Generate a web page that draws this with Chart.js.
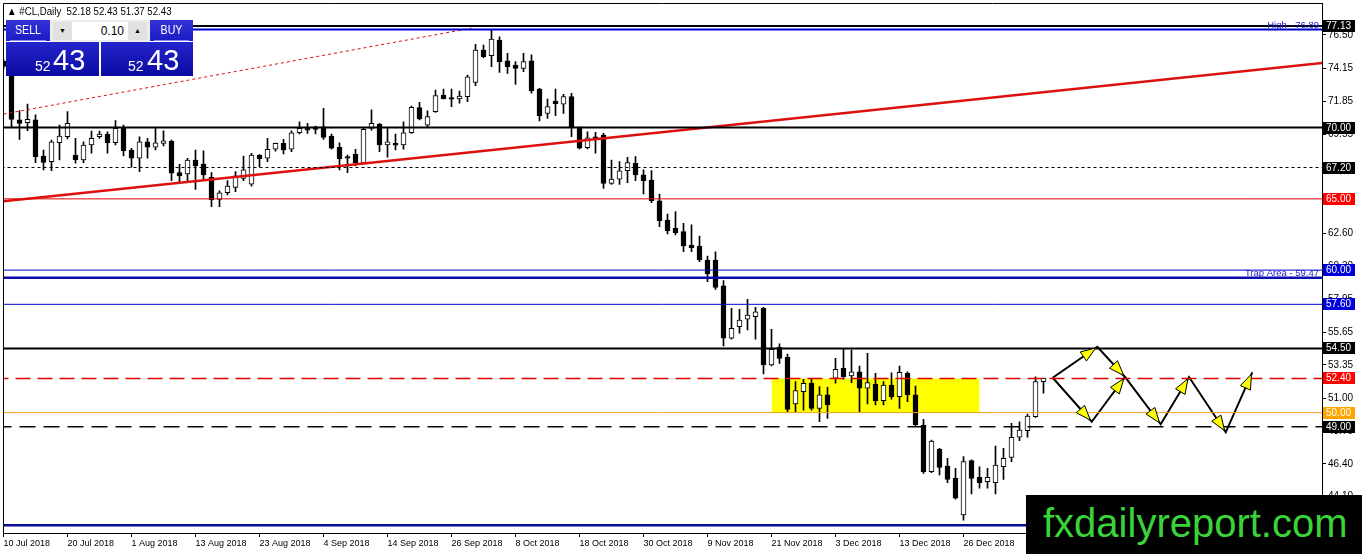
<!DOCTYPE html>
<html>
<head>
<meta charset="utf-8">
<script src="https://cdn.jsdelivr.net/npm/chart.js@4.4.0/dist/chart.umd.min.js"></script>
<style>
html,body{margin:0;padding:0;background:#fff;}
#wrap{position:relative;width:1362px;height:554px;overflow:hidden;font-family:"Liberation Sans",Arial,sans-serif;background:#fff;}
#c{position:absolute;left:0;top:0;}
.abs{position:absolute;white-space:pre;}
#title{left:7px;top:5px;font-size:11px;line-height:12px;color:#000;transform:scaleX(0.88);transform-origin:0 0;}
.btn{position:absolute;top:20px;height:21px;background:linear-gradient(#3333d8,#1c1cc4);color:#fff;}
.btn span{position:absolute;left:0;right:0;top:3px;text-align:center;font-size:13px;line-height:14px;transform:scaleX(0.82);}
.btn i{position:absolute;left:4px;right:4px;bottom:0;height:1px;background:#8c8ce8;}
#spin{position:absolute;left:50px;top:20px;width:100px;height:22px;background:#ececec;}
#field{position:absolute;left:22px;top:2px;width:56px;height:18px;background:#fff;}
#field span{position:absolute;right:4px;top:2px;font-size:12px;line-height:14px;color:#000;}
.sb{position:absolute;top:2px;width:19px;height:18px;background:#e1e1e1;color:#000;font-size:7px;line-height:18px;text-align:center;}
.pbox{position:absolute;top:42px;height:34px;background:linear-gradient(#2424cc,#0b0ba2);color:#fff;}
.small{position:absolute;font-size:14px;line-height:14px;}
.big{position:absolute;font-size:29px;line-height:29px;}
#wm{position:absolute;left:1026px;top:495px;width:336px;height:59px;background:#000;}
#wm span{position:absolute;left:17px;top:8px;font-size:40px;line-height:40px;color:#3ad33a;white-space:pre;}
</style>
</head>
<body>
<div id="wrap">
<canvas id="c" width="1362" height="554"></canvas>
<div id="title" class="abs">&#9650; #CL,Daily  52.18 52.43 51.37 52.43</div>
<div class="btn" style="left:6px;width:44px;"><span>SELL</span><i></i></div>
<div id="spin"><div class="sb" style="left:3px;">&#9660;</div><div id="field"><span>0.10</span></div><div class="sb" style="left:78px;">&#9650;</div></div>
<div class="btn" style="left:150px;width:43px;"><span>BUY</span><i></i></div>
<div class="pbox" style="left:6px;width:93px;"><span class="small" style="left:29px;top:17px;">52</span><span class="big" style="left:47px;top:4px;">43</span></div>
<div class="pbox" style="left:101px;width:92px;"><span class="small" style="left:27px;top:17px;">52</span><span class="big" style="left:46px;top:4px;">43</span></div>
<div id="wm"><span>fxdailyreport.com</span></div>
</div>
<script>
// ---- data (bar index -1 = 10 Jul 2018) ----
const openP = [74.65,74.20,70.54,70.35,70.54,68.00,67.61,68.94,69.36,68.08,67.73,68.78,69.36,69.53,68.94,70.02,68.43,67.85,69.01,68.62,68.90,69.06,66.84,66.75,67.73,67.45,66.51,64.97,65.43,65.81,66.44,66.04,68.08,67.85,68.48,68.90,68.48,69.64,69.95,70.06,70.06,69.41,68.62,67.96,68.13,67.50,69.95,70.25,68.78,68.90,68.78,69.64,71.40,70.18,71.12,72.29,72.10,72.01,72.17,73.18,75.45,75.05,76.15,74.68,74.39,74.16,74.68,72.71,71.00,71.87,71.64,72.17,69.95,68.59,69.36,69.48,66.09,66.39,66.98,67.50,66.68,66.32,64.87,63.52,62.94,62.70,61.76,61.69,60.71,60.71,58.89,55.22,56.03,56.55,56.73,57.32,53.34,54.58,53.88,50.61,51.47,52.05,50.30,51.24,52.41,53.11,52.57,52.87,51.71,52.01,50.84,51.94,51.12,52.76,51.24,49.13,45.85,47.43,46.25,45.39,42.82,46.63,45.46,45.15,45.08,46.20,46.86,48.27,48.73,49.71,52.18];
const highP = [74.80,74.30,71.19,71.66,70.89,68.43,69.13,70.18,71.12,69.25,69.01,69.76,69.76,69.71,70.49,70.18,68.55,69.36,69.25,69.95,69.78,69.13,67.43,67.85,68.43,68.38,66.84,65.57,66.28,66.91,68.01,68.20,68.10,69.25,68.92,69.18,69.78,70.41,70.30,70.11,71.36,69.55,68.94,68.08,68.48,69.95,71.24,70.30,69.95,69.55,70.41,71.52,71.78,71.17,72.64,72.71,72.71,72.57,73.69,75.85,75.80,76.89,76.38,75.22,74.63,75.22,75.10,72.76,72.01,72.71,72.34,72.41,70.06,69.71,69.67,69.60,67.73,67.61,67.92,67.96,67.03,66.98,65.34,63.94,64.10,63.29,63.17,62.39,60.99,61.29,59.26,57.32,57.24,57.95,57.39,57.39,55.85,54.82,54.11,52.17,52.34,52.41,51.82,51.78,53.81,54.51,54.39,53.27,54.16,52.76,52.17,52.80,53.27,52.87,51.87,49.53,48.08,47.50,46.79,46.09,46.91,46.68,46.20,46.09,47.66,47.50,49.25,49.36,49.90,52.52,52.43];
const lowP = [74.10,70.06,69.18,69.78,67.54,67.03,66.98,67.73,69.20,67.50,67.54,68.20,69.25,68.20,68.78,68.01,67.22,66.91,67.85,68.43,68.71,66.28,66.21,66.21,65.67,66.32,64.45,64.45,65.27,65.50,66.28,65.90,67.26,67.61,68.34,68.15,68.31,69.55,69.60,69.55,69.18,68.48,67.03,66.84,67.31,67.45,69.83,68.31,67.92,68.43,68.48,69.60,70.54,70.06,71.07,72.01,71.47,71.71,71.82,72.94,74.91,74.28,73.88,73.81,73.04,73.93,72.41,70.47,70.65,70.84,71.00,69.36,68.50,68.50,68.20,65.74,66.02,66.02,66.14,66.28,65.34,64.73,63.05,62.54,62.47,61.29,61.29,60.59,59.19,58.65,54.68,55.15,55.57,55.80,55.15,52.71,53.27,53.46,50.07,50.07,50.18,50.18,49.36,49.60,52.06,52.34,52.10,50.07,50.61,50.54,50.54,50.94,50.30,50.77,49.01,45.74,45.78,45.62,45.08,43.92,42.46,44.29,44.69,44.69,44.29,45.32,46.56,48.03,48.27,49.67,51.37];
const closeP = [74.30,70.58,70.30,70.58,67.96,67.55,69.01,69.41,70.30,67.73,68.78,69.25,69.55,68.94,69.95,68.38,67.85,69.01,68.62,68.94,69.08,66.80,66.61,67.73,67.31,66.68,64.92,65.43,65.90,66.61,67.03,68.08,67.83,68.48,68.90,68.43,69.64,69.95,69.83,69.88,69.32,68.55,67.83,67.85,67.50,69.88,70.30,68.78,69.01,68.76,69.64,71.43,70.61,70.77,72.24,72.01,71.99,72.22,73.57,75.45,74.98,76.22,74.63,74.28,74.16,74.63,72.57,70.84,71.47,71.68,72.17,69.99,68.55,69.29,69.20,66.09,66.39,66.96,67.54,66.68,66.28,64.87,63.47,62.77,62.63,61.69,61.57,60.71,59.73,58.79,55.22,55.92,56.50,56.85,57.08,53.34,54.44,53.81,50.23,51.54,52.05,50.30,51.24,50.54,53.04,52.52,52.87,51.71,52.10,50.84,51.94,51.12,52.83,51.24,49.13,45.85,48.01,46.16,45.32,43.99,46.56,45.39,45.08,45.46,46.32,46.79,48.27,48.78,49.76,52.17,52.43];

const xTickIndex = [-1,7,15,23,31,39,47,55,63,71,79,87,95,103,111,119];
const xTickLabels = ["10 Jul 2018","20 Jul 2018","1 Aug 2018","13 Aug 2018","23 Aug 2018","4 Sep 2018","14 Sep 2018","26 Sep 2018","8 Oct 2018","18 Oct 2018","30 Oct 2018","9 Nov 2018","21 Nov 2018","3 Dec 2018","13 Dec 2018","26 Dec 2018"];
const yTickValues = [44.10,46.40,48.70,51.00,53.35,55.65,57.95,60.30,62.60,64.90,67.20,69.55,71.85,74.15,76.50];

// horizontal levels
const levelPrices = [77.13,76.89,70.00,67.20,65.00,60.00,59.47,57.60,54.50,52.40,50.00,49.00,42.10];
// right-axis price tags
const tagPrices = [77.13,70.00,67.20,65.00,60.00,57.60,54.50,52.40,50.00,49.00];
// trend lines [index, price]
const redTrend = [[-1,64.83],[164,74.55]];
const dottedTrend = [[-1,70.95],[57.5,76.98]];
// yellow zone
const zoneX = [95,121];
const zonePrices = [52.40,50.00];
// projected zigzag paths
const pathA = [[130.15,52.45],[135.73,54.62],[139.19,52.50],[143.65,49.18],[147.19,52.50],[151.78,48.62],[155.10,52.83]];
const pathB = [[130.15,52.45],[135.03,49.36],[139.19,52.50]];
// text notes
const noteTexts = ["High - 76.89","Trap Area - 59.47"];
const notePrices = [76.89,59.47];

// ---- styles (kept apart from data) ----
const levelStyle = [
 {c:'#000000',w:2,d:[]},{c:'#0000c8',w:2,d:[]},{c:'#000000',w:2,d:[]},{c:'#000000',w:1.2,d:[3,3]},
 {c:'#e00000',w:1,d:[]},{c:'#0000c8',w:1,d:[]},{c:'#0a0ab0',w:2.5,d:[]},{c:'#0000c8',w:1,d:[]},
 {c:'#000000',w:2,d:[]},{c:'#e00000',w:1.5,d:[15,7]},{c:'#f0a020',w:1,d:[]},{c:'#000000',w:1.5,d:[16,8]},{c:'#0b0b9a',w:2.5,d:[]}
];
const tagColors = ['#000000','#000000','#000000','#ff0000','#0000dd','#0000dd','#000000','#ff0000','#ffa500','#000000'];

const idx = openP.map((_,k)=>k-1);
const bodies = idx.map((x,k)=>({x:x,y:[Math.min(openP[k],closeP[k]),Math.max(openP[k],closeP[k])]}));
const wicks = idx.map((x,k)=>({x:x,y:[lowP[k],highP[k]]}));
const bodyFill = idx.map((x,k)=> closeP[k]>=openP[k] ? '#ffffff' : '#000000');

const datasets = [];
levelPrices.forEach((p,k)=>{
  datasets.push({type:'line',data:[{x:-5,y:p},{x:170,y:p}],borderColor:levelStyle[k].c,borderWidth:levelStyle[k].w,borderDash:levelStyle[k].d,pointRadius:0,fill:false,order:0,tension:0});
});
datasets.push({type:'line',data:redTrend.map(a=>({x:a[0],y:a[1]})),borderColor:'#dd1010',borderWidth:2.5,pointRadius:0,fill:false,order:0});
datasets.push({type:'line',data:dottedTrend.map(a=>({x:a[0],y:a[1]})),borderColor:'#dd1010',borderWidth:1,borderDash:[3,3],pointRadius:0,fill:false,order:0});
datasets.push({type:'line',data:pathA.map(a=>({x:a[0],y:a[1]})),borderColor:'#000',borderWidth:2,pointRadius:0,fill:false,order:0});
datasets.push({type:'line',data:pathB.map(a=>({x:a[0],y:a[1]})),borderColor:'#000',borderWidth:2,pointRadius:0,fill:false,order:0});
datasets.push({type:'bar',data:bodies,backgroundColor:bodyFill,borderColor:'#000',borderWidth:1,borderSkipped:false,barThickness:5,grouped:false,order:1});
datasets.push({type:'bar',data:wicks,backgroundColor:'#000',borderWidth:0,barThickness:1,grouped:false,order:2});
datasets.push({type:'line',data:[{x:zoneX[0],y:zonePrices[0]},{x:zoneX[1],y:zonePrices[0]}],borderWidth:0,pointRadius:0,fill:'+1',backgroundColor:'#ffff00',order:3});
datasets.push({type:'line',data:[{x:zoneX[0],y:zonePrices[1]},{x:zoneX[1],y:zonePrices[1]}],borderWidth:0,pointRadius:0,fill:false,order:3});

const FONT = '"Liberation Sans", Arial, sans-serif';

const extras = {
  id:'extras',
  afterDatasetsDraw(chart){
    const {ctx, scales:{x,y}} = chart;
    ctx.save();
    [pathA,pathB].forEach(path=>{
      for(let k=1;k<path.length;k++){
        const x0=x.getPixelForValue(path[k-1][0]), y0=y.getPixelForValue(path[k-1][1]);
        const x1=x.getPixelForValue(path[k][0]), y1=y.getPixelForValue(path[k][1]);
        const dx=x1-x0, dy=y1-y0, len=Math.hypot(dx,dy), ux=dx/len, uy=dy/len;
        const tx=x1-ux*2, ty=y1-uy*2, L=15, W=5.5;
        const bx=tx-ux*L, by=ty-uy*L;
        ctx.beginPath();
        ctx.moveTo(tx,ty); ctx.lineTo(bx-uy*W,by+ux*W); ctx.lineTo(bx+uy*W,by-ux*W); ctx.closePath();
        ctx.fillStyle='#ffff00'; ctx.fill();
        ctx.strokeStyle='#000'; ctx.lineWidth=1; ctx.stroke();
      }
    });
    ctx.font='9.5px '+FONT; ctx.fillStyle='#1c1cd0'; ctx.textAlign='right'; ctx.textBaseline='alphabetic';
    noteTexts.forEach((t,k)=>{ ctx.fillText(t, chart.chartArea.right-3, y.getPixelForValue(notePrices[k])-1.5); });
    ctx.restore();
  },
  afterDraw(chart){
    const {ctx, scales:{y}, chartArea:a} = chart;
    ctx.save();
    ctx.strokeStyle='#000'; ctx.lineWidth=1;
    ctx.beginPath(); ctx.moveTo(a.left,a.bottom); ctx.lineTo(a.left,a.top+0.5); ctx.lineTo(a.right,a.top+0.5); ctx.stroke();
    ctx.font='10px '+FONT; ctx.textAlign='left'; ctx.textBaseline='middle';
    tagPrices.forEach((p,k)=>{
      const py=Math.round(y.getPixelForValue(p));
      ctx.fillStyle=tagColors[k]; ctx.fillRect(a.right+1,py-6,32,12);
      ctx.fillStyle='#fff'; ctx.fillText(p.toFixed(2), a.right+4, py+0.5);
    });
    ctx.restore();
  }
};

new Chart(document.getElementById('c'),{
  type:'bar',
  data:{datasets:datasets},
  options:{
    responsive:false, animation:false, events:[], devicePixelRatio:1,
    layout:{padding:{left:3.5,top:3,right:0,bottom:0}},
    plugins:{legend:{display:false},tooltip:{enabled:false}},
    scales:{
      x:{type:'linear',position:'bottom',min:-1,max:163.8125,offset:false,
         grid:{drawOnChartArea:false,drawTicks:true,tickLength:4,color:'#000',offset:false},
         border:{display:true,color:'#000',width:1},
         afterBuildTicks:s=>{s.ticks=xTickIndex.map(v=>({value:v}));},
         afterFit:s=>{s.height=21;s.paddingLeft=0;s.paddingRight=0;},
         ticks:{autoSkip:false,maxRotation:0,minRotation:0,align:'start',padding:1,color:'#000',font:{family:FONT,size:9},
           callback:v=>{const i=xTickIndex.indexOf(v);return i>=0?xTickLabels[i]:'';}}},
      y:{type:'linear',position:'right',min:41.5526,max:78.7456,
         grid:{drawOnChartArea:false,drawTicks:true,tickLength:4,color:'#000'},
         border:{display:true,color:'#000',width:1},
         afterBuildTicks:s=>{s.ticks=yTickValues.map(v=>({value:v}));},
         afterFit:s=>{s.width=40;s.paddingTop=0;s.paddingBottom=0;},
         ticks:{autoSkip:false,padding:2,color:'#000',font:{family:FONT,size:10},callback:v=>Number(v).toFixed(2)}}
    }
  },
  plugins:[extras]
});
</script>
</body>
</html>
